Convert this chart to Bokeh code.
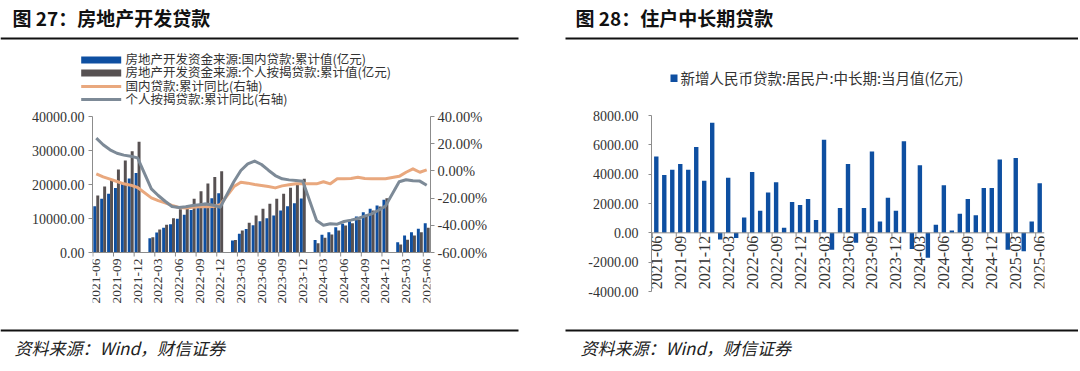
import math
from bokeh.plotting import figure
from bokeh.layouts import column, row
from bokeh.models import Range1d, LinearAxis, FixedTicker, NumeralTickFormatter, PrintfTickFormatter, Span
from bokeh.embed import file_html
from bokeh.resources import INLINE
from bokeh.core.properties import value

# ---------------- data ----------------
months = [f"{y}-{m:02d}" for y in range(2021, 2026) for m in range(1, 13)
          if (2021, 6) <= (y, m) <= (2025, 6)]
tick_idx = list(range(0, 49, 3))
tick_labels = [months[i] for i in tick_idx]

N = None
# 房地产开发资金来源:国内贷款:累计值(亿元)
domestic_loans = [13600, 15800, 17250, 19000, 20200, 21750, 23400,
                  N, 4200, 5900, 7250, 8300, 9900, 11100, 12500, 13500, 14600, 15950, 17400,
                  N, 3500, 5500, 6900, 8000, 9200, 10100, 10900, 12350, 13600, 14500, 15900,
                  N, 3700, 5200, 5980, 7450, 8430, 9220, 10590, 11860, 12840, 13820, 15490,
                  N, 3040, 5000, 5980, 6960, 8630]
# 房地产开发资金来源:个人按揭贷款:累计值(亿元)
mortgage_loans = [16770, 19410, 21380, 24410, 27060, 29800, 32550,
                  N, 4500, 6750, 8150, 10100, 12700, 13650, 15800, 18000, 20300, 22200, 23900,
                  N, 3700, 6470, 8720, 10880, 12840, 14310, 15780, 17250, 19020, 20200, 21670,
                  N, 2750, 4310, 5290, 6470, 7940, 8630, 9710, 11080, 12350, 13530, 15980,
                  N, 2350, 3720, 5000, 5980, 7250]
# 国内贷款:累计同比(右轴) %
domestic_yoy = [-2.2, -4.4, -6.1, -7.8, -9.5, -10.5, -12.2,
                N, -19.8, -21.8, -23.5, -25.4, -26.9, -27.2, -26.7, -26.4, -26.4, -26.2, -24.9,
                N, -11.5, -8.3, -9.0, -10.0, -10.7, -11.5, -12.5, -11.0, -10.2, -9.5, -9.5,
                N, -9.5, -8.0, -9.5, -5.8, -5.8, -5.6, -4.6, -5.6, -5.8, -5.8, -5.8,
                N, -4.0, -1.0, 1.5, -1.0, 0.8]
# 个人按揭贷款:累计同比(右轴) %
mortgage_yoy = [24.1, 19.2, 15.5, 13.0, 11.6, 10.8, 9.6,
                N, -13.2, -18.1, -22.3, -26.2, -26.9, -26.4, -25.4, -24.9, -24.4, -25.2, -26.7,
                N, -7.8, 0.3, 5.2, 7.2, 4.7, 0.5, -3.4, -5.8, -6.6, -7.1, -7.6,
                N, -36.5, -39.9, -38.9, -39.2, -37.2, -36.2, -35.0, -33.3, -31.6, -28.9, -25.9,
                N, -8.0, -6.5, -7.3, -7.5, -10.5]
# 新增人民币贷款:居民户:中长期:当月值(亿元)
household_mlt = [5200, 3950, 4300, 4700, 4300, 5850, 3550,
                 7500, -450, 3750, -350, 1050, 4150, 1500, 2750, 3450, 350, 2100, 1900,
                 2300, 880, 6350, -1150, 1700, 4700, -680, 1700, 5550, 780, 2400, 1500,
                 6250, -1100, 4600, -1700, 550, 3250, 160, 1300, 2300, 1200, 3050, 3050,
                 5000, -1150, 5100, -1250, 780, 3380]

left_y_ticks = [0, 10000, 20000, 30000, 40000]
right_pct_ticks = [-60, -40, -20, 0, 20, 40]
r_y_ticks = [-4000, -2000, 0, 2000, 4000, 6000, 8000]

# ---------------- style ----------------
BLUE = "#0E4FA1"
DARK = "#575152"
ORANGE = "#E9A87E"
SLATE = "#7D8A97"
AXIS = "#8C8C8C"
TXT = "#333333"
CJK = "Noto Sans CJK SC"
SERIF = "Liberation Serif"

def nan(v):
    return float("nan") if v is None else v

idx = list(range(len(months)))

def style_axis(ax, size="15px"):
    ax.axis_line_color = AXIS
    ax.major_tick_line_color = AXIS
    ax.minor_tick_line_color = None
    ax.major_tick_in = 0
    ax.major_tick_out = 4
    ax.major_label_text_font = SERIF
    ax.major_label_text_font_size = size
    ax.major_label_text_color = TXT

def blank(w, h):
    f = figure(width=w, height=h, x_range=Range1d(0, w), y_range=Range1d(h, 0),
               output_backend="svg", toolbar_location=None, min_border=0,
               x_axis_location=None, y_axis_location=None, outline_line_color=None)
    f.grid.visible = False
    return f

W = 1078
HH = 108                         # header height
FR_TOP = 115 - HH                # both chart frames span 115..305px
FR_H, FR_BOT = 190, 17

# ---------------- header ----------------
hdr = blank(W, HH)
hdr.text(x=[12, 575], y=[17, 17], text=["图 27：房地产开发贷款", "图 28：住户中长期贷款"],
         text_font=value(CJK), text_font_size=value("19px"), text_font_style="bold",
         text_baseline="middle", text_align="left", text_color="#111111")
hdr.segment(x0=[0, 565], x1=[518, 1078], y0=[38, 38], y1=[38, 38], line_color="#111111", line_width=2)
# left legend
hdr.quad(left=[80.7], right=[120.7], top=[56], bottom=[63], fill_color=BLUE, line_color=None)
hdr.quad(left=[80.7], right=[120.7], top=[69], bottom=[76], fill_color=DARK, line_color=None)
hdr.segment(x0=[80.7], x1=[120.7], y0=[86], y1=[86], line_color=ORANGE, line_width=3)
hdr.segment(x0=[80.7], x1=[120.7], y0=[99], y1=[99], line_color=SLATE, line_width=3)
hdr.text(x=[125] * 4, y=[58, 71, 84.5, 97.5],
         text=["房地产开发资金来源:国内贷款:累计值(亿元)",
               "房地产开发资金来源:个人按揭贷款:累计值(亿元)",
               "国内贷款:累计同比(右轴)",
               "个人按揭贷款:累计同比(右轴)"],
         text_font=value(CJK), text_font_size=value("12.5px"), text_baseline="middle",
         text_align="left", text_color=TXT)
# right legend
hdr.quad(left=[670], right=[677], top=[74], bottom=[81.5], fill_color=BLUE, line_color=None)
hdr.text(x=[680], y=[76.5], text=["新增人民币贷款:居民户:中长期:当月值(亿元)"],
         text_font=value(CJK), text_font_size=value("14.5px"), text_baseline="middle",
         text_align="left", text_color=TXT)

# ---------------- left chart ----------------
# 0 at 252px, 40000 at 116px
PX1 = 40000 / 136.0
PP1 = 100 / 136.0
p1 = figure(width=540, height=FR_TOP + FR_H + FR_BOT,
            x_range=Range1d(-0.55, 48.55),
            y_range=Range1d(0 - 53 * PX1, 40000 + 1 * PX1),
            output_backend="svg", toolbar_location=None, x_axis_location=None,
            min_border_left=92, min_border_right=110, min_border_top=FR_TOP,
            min_border_bottom=FR_BOT, outline_line_color=None)
p1.grid.visible = False
p1.extra_y_ranges = {"pct": Range1d(-60 - 53 * PP1, 40 + 1 * PP1)}
p1.vbar(x=[i - 0.215 for i in idx], top=[nan(v) for v in domestic_loans], width=0.43,
        fill_color=BLUE, line_color=None)
p1.vbar(x=[i + 0.215 for i in idx], top=[nan(v) for v in mortgage_loans], width=0.43,
        fill_color=DARK, line_color=None)
ox = [i for i, v in zip(idx, domestic_yoy) if v is not None]
oy = [v for v in domestic_yoy if v is not None]
gx = [i for i, v in zip(idx, mortgage_yoy) if v is not None]
gy = [v for v in mortgage_yoy if v is not None]
p1.line(ox, oy, y_range_name="pct", line_color=ORANGE, line_width=3, line_join="round")
p1.line(gx, gy, y_range_name="pct", line_color=SLATE, line_width=3, line_join="round")

p1.yaxis.ticker = FixedTicker(ticks=left_y_ticks)
p1.yaxis.formatter = NumeralTickFormatter(format="0.00")
p1.yaxis.bounds = (0, 40000)
style_axis(p1.yaxis[0], "14px")
p1.yaxis.major_label_standoff = 4
ax_r = LinearAxis(y_range_name="pct", ticker=FixedTicker(ticks=right_pct_ticks),
                  formatter=PrintfTickFormatter(format="%.2f%%"), bounds=(-60, 40))
style_axis(ax_r, "14.5px")
ax_r.major_label_standoff = 3
p1.add_layout(ax_r, "right")
p1.add_layout(Span(location=0, dimension="width", line_color=AXIS, line_width=1))
p1.ray(x=[i - 0.5 for i in tick_idx], y=[0] * len(tick_idx), length=4, length_units="screen",
       angle=-math.pi / 2, line_color=AXIS, line_width=1)
p1.text(x=tick_idx, y=[0] * len(tick_idx), text=tick_labels, angle=math.pi / 2,
        text_align="right", text_baseline="middle", y_offset=6,
        text_font=value(SERIF), text_font_size=value("13.5px"), text_color=TXT)

# ---------------- right chart ----------------
# 8000 at 115px, -4000 at 291px
PX2 = 12000 / 176.0
p2 = figure(width=538, height=FR_TOP + FR_H + FR_BOT,
            x_range=Range1d(-0.6, 48.6), y_range=Range1d(-4000 - 14 * PX2, 8000),
            output_backend="svg", toolbar_location=None, x_axis_location=None,
            min_border_left=111, min_border_right=34, min_border_top=FR_TOP,
            min_border_bottom=FR_BOT, outline_line_color=None)
p2.grid.visible = False
p2.vbar(x=idx, top=household_mlt, width=0.55, fill_color=BLUE, line_color=None)
p2.yaxis.ticker = FixedTicker(ticks=r_y_ticks)
p2.yaxis.formatter = NumeralTickFormatter(format="0.00")
p2.yaxis.bounds = (-4000, 8000)
style_axis(p2.yaxis[0], "14px")
p2.yaxis.major_tick_out = 3
p2.yaxis.major_label_standoff = 10
p2.add_layout(Span(location=0, dimension="width", line_color=AXIS, line_width=1))
p2.ray(x=[i - 0.5 for i in tick_idx], y=[0] * len(tick_idx), length=4, length_units="screen",
       angle=-math.pi / 2, line_color=AXIS, line_width=1)
p2.text(x=tick_idx, y=[0] * len(tick_idx), text=tick_labels, angle=math.pi / 2,
        text_align="right", text_baseline="middle", y_offset=3,
        text_font=value(SERIF), text_font_size=value("16px"), text_color=TXT)

# ---------------- footer ----------------
FH = 48
ftr = blank(W, FH)
ftr.segment(x0=[0, 565], x1=[518, 1078], y0=[8, 8], y1=[8, 8], line_color="#111111", line_width=2)
ftr.text(x=[14, 580], y=[25, 25], text=["资料来源：Wind，财信证券", "资料来源：Wind，财信证券"],
         text_font=value(CJK), text_font_size=value("17px"), text_font_style="italic",
         text_baseline="middle", text_align="left", text_color="#222222")

layout = column(hdr, row(p1, p2, spacing=0), ftr, spacing=0)
open("out.html", "w").write(file_html(layout, INLINE))
